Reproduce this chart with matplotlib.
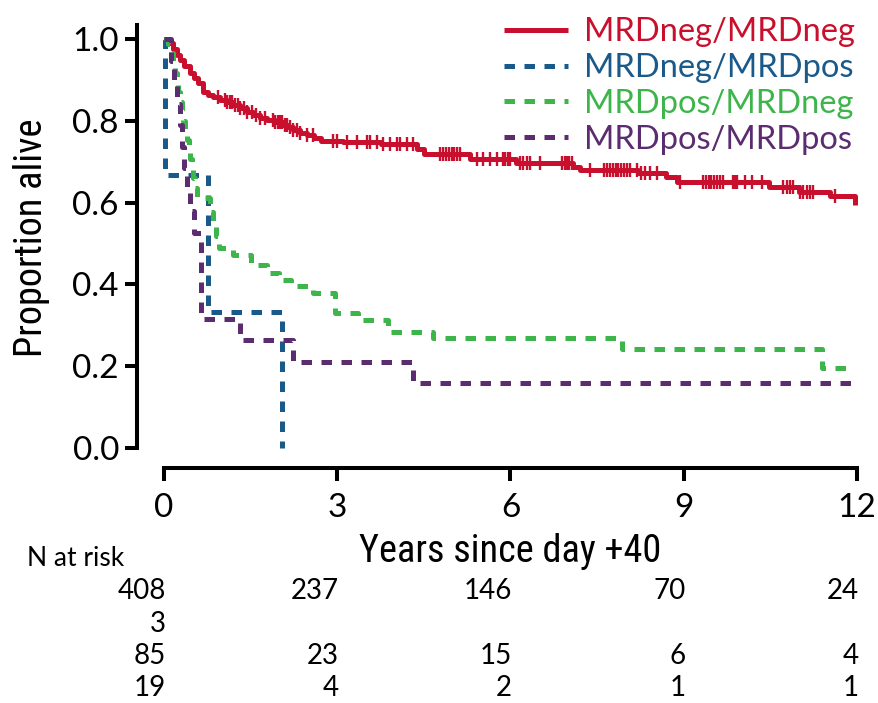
import os
import numpy as np
import matplotlib
matplotlib.use("Agg")
import matplotlib.pyplot as plt
from matplotlib import font_manager as fm
from matplotlib import transforms

# ---------------- data ----------------
groups = ["MRDneg/MRDneg", "MRDneg/MRDpos", "MRDpos/MRDneg", "MRDpos/MRDpos"]
colors = ["#C8102E", "#1A5A8A", "#3DB54A", "#5B2C6F"]

red_t = [0.0, 0.07, 0.15, 0.22, 0.28, 0.35, 0.45, 0.52, 0.59, 0.68, 0.76, 0.85, 0.97,
         1.09, 1.2, 1.32, 1.43, 1.54, 1.66, 1.78, 1.92, 2.06, 2.15, 2.23, 2.35, 2.48,
         2.6, 2.72, 3.1, 3.75, 4.38, 4.5, 5.3, 6.1, 7.08, 7.2, 8.2, 8.7, 8.88, 10.48,
         11.0, 11.53, 11.97, 11.97]
red_s = [1.0, 0.99, 0.975, 0.962, 0.949, 0.935, 0.917, 0.905, 0.892, 0.870, 0.862, 0.858,
         0.852, 0.846, 0.838, 0.831, 0.822, 0.814, 0.808, 0.802, 0.796, 0.790, 0.784,
         0.777, 0.771, 0.765, 0.758, 0.751, 0.748, 0.743, 0.732, 0.720, 0.706, 0.697,
         0.687, 0.680, 0.672, 0.663, 0.650, 0.638, 0.627, 0.616, 0.593, 0.593]
red_censor = [0.94, 1.05, 1.09, 1.14, 1.18, 1.23, 1.28, 1.32, 1.38, 1.44, 1.52, 1.6, 1.66,
              1.75, 1.89, 1.93, 1.97, 2.01, 2.05, 2.09, 2.13, 2.19, 2.23, 2.3, 2.36, 2.48,
              2.58, 2.93, 3.0, 3.17, 3.34, 3.52, 3.57, 3.69, 3.79, 3.91, 4.03, 4.09, 4.21,
              4.31, 4.78, 4.83, 4.88, 4.93, 4.98, 5.03, 5.08, 5.13, 5.42, 5.52, 5.65, 5.77,
              5.87, 5.91, 5.95, 5.99, 6.16, 6.22, 6.29, 6.34, 6.51, 6.9, 6.94, 6.98, 7.02,
              7.06, 7.38, 7.62, 7.67, 7.72, 7.77, 7.82, 7.87, 7.92, 7.97, 8.02, 8.07, 8.19,
              8.26, 8.33, 8.42, 8.54, 8.94, 9.33, 9.38, 9.43, 9.48, 9.53, 9.58, 9.63, 9.68,
              9.85, 9.88, 9.92, 10.06, 10.18, 10.36, 10.72, 10.78, 10.84, 10.9, 11.01,
              11.07, 11.13, 11.19, 11.24, 11.62]

blue_t = [0.0, 0.01, 0.76, 2.04]
blue_s = [1.0, 0.667, 0.333, 0.0]

green_t = [0.0, 0.07, 0.12, 0.16, 0.19, 0.22, 0.25, 0.28, 0.31, 0.33, 0.37, 0.40, 0.43,
           0.45, 0.48, 0.50, 0.54, 0.57, 0.80, 0.84, 0.90, 0.95, 1.2, 1.5, 1.78, 2.0,
           2.2, 2.58, 2.96, 3.36, 3.88, 4.66, 7.93, 11.4, 11.97]
green_s = [1.0, 0.988, 0.965, 0.941, 0.918, 0.894, 0.871, 0.847, 0.824, 0.800, 0.776,
           0.753, 0.729, 0.706, 0.682, 0.659, 0.635, 0.612, 0.576, 0.541, 0.518, 0.488,
           0.472, 0.447, 0.428, 0.410, 0.396, 0.379, 0.330, 0.313, 0.284, 0.270, 0.242,
           0.196, 0.196]

purple_t = [0.0, 0.07, 0.12, 0.17, 0.22, 0.27, 0.31, 0.35, 0.40, 0.45, 0.52, 0.64, 1.32,
            2.24, 4.32, 11.9]
purple_s = [1.0, 1.0, 0.947, 0.895, 0.842, 0.789, 0.737, 0.684, 0.632, 0.579, 0.526,
            0.316, 0.263, 0.211, 0.158, 0.158]

xticks = [0, 3, 6, 9, 12]
yticks = [0.0, 0.2, 0.4, 0.6, 0.8, 1.0]
risk_rows = [
    [408, 237, 146, 70, 24],
    [3],
    [85, 23, 15, 6, 4],
    [19, 4, 2, 1, 1],
]

# ---------------- fonts ----------------
def find_condensed():
    prefs = ["robotocondensed-regular", "liberationsansnarrow-regular",
             "dejavusanscondensed.ttf", "opensans_condensed-regular",
             "opensanscondensed", "notosans-condensed.ttf", "condensed", "narrow"]
    bad = ["bold", "italic", "oblique", "light", "thin", "black", "medium", "semi", "extra"]
    files = [f.fname for f in fm.fontManager.ttflist]
    for p in prefs:
        for f in files:
            b = os.path.basename(f).lower()
            if p in b and not any(s in b for s in bad):
                return fm.FontProperties(fname=f)
    return None

cond = find_condensed()
main_family = ["Lato", "DejaVu Sans"]
plt.rcParams["font.family"] = main_family

# ---------------- figure ----------------
W, H = 879, 703
fig = plt.figure(figsize=(W / 100, H / 100), dpi=100)
x0, x1 = 164, 857
y0, y1 = 448, 39
ax = fig.add_axes([x0 / W, (H - y0) / H, (x1 - x0) / W, (y0 - y1) / H])
ax.set_xlim(0, 12)
ax.set_ylim(0, 1)

lw = 3.6
dash = (2.1, 1.9)
line_red, = ax.step(red_t, red_s, where="post", color=colors[0], lw=lw,
                    clip_on=False, solid_capstyle="butt", label=groups[0])
line_blue, = ax.step(blue_t, blue_s, where="post", color=colors[1], lw=lw,
                     clip_on=False, dashes=dash, dash_capstyle="butt", label=groups[1])
line_green, = ax.step(green_t, green_s, where="post", color=colors[2], lw=lw,
                      clip_on=False, dashes=dash, dash_capstyle="butt", label=groups[2])
line_purple, = ax.step(purple_t, purple_s, where="post", color=colors[3], lw=lw,
                       clip_on=False, dashes=dash, dash_capstyle="butt", label=groups[3])

# censor marks on red curve
rt = np.array(red_t)
rs = np.array(red_s)
idx = np.searchsorted(rt, np.array(red_censor), side="right") - 1
ax.plot(red_censor, rs[idx], ls="none", marker="|", ms=10.5, mew=1.7,
        color=colors[0], clip_on=False)

# spines
for s in ["top", "right"]:
    ax.spines[s].set_visible(False)
ax.spines["left"].set_position(("outward", (x0 - 137) * 0.72))
ax.spines["bottom"].set_position(("outward", (468 - y0) * 0.72))
ax.spines["left"].set_bounds(0, 1.034)
ax.spines["bottom"].set_bounds(0, 12)
for s in ["left", "bottom"]:
    ax.spines[s].set_linewidth(2.9)
ax.set_xticks(xticks)
ax.set_yticks(yticks)
ax.set_yticklabels([f"{v:.1f}" for v in yticks])
ax.tick_params(axis="both", length=9, width=2.9, labelsize=24, color="black")
ax.tick_params(axis="y", pad=4)
ax.tick_params(axis="x", pad=9)

# axis labels
lab_kw = dict(fontsize=27)
if cond is not None:
    fp = cond.copy()
    fp.set_size(27.5)
    lab_kw = dict(fontproperties=fp)
fig.text(510 / W, 1 - 551 / H, "Years since day +40", ha="center", va="center", **lab_kw)
fig.text(32 / W, 1 - 238 / H, "Proportion alive", rotation=90, ha="center",
         va="center", **lab_kw)

# legend
leg = ax.legend(handles=[line_red, line_blue, line_green, line_purple],
                loc="upper right", bbox_to_anchor=(868 / W, 1 - 4 / H),
                bbox_transform=fig.transFigure, frameon=False, fontsize=23.5,
                handlelength=1.95, handletextpad=0.5, labelspacing=0.18,
                borderaxespad=0, labelcolor="linecolor")

# risk table
trans = transforms.blended_transform_factory(ax.transData, fig.transFigure)
fig.text(27 / W, 1 - 558 / H, "N at risk", ha="left", va="center", fontsize=19)
row_y = [591, 624, 656, 688]
for row, yy in zip(risk_rows, row_y):
    for xv, n in zip(xticks, row):
        ax.text(xv + 0.03, 1 - yy / H, str(n), transform=trans, ha="right",
                va="center", fontsize=20, clip_on=False)

fig.savefig("out.png", dpi=100)
